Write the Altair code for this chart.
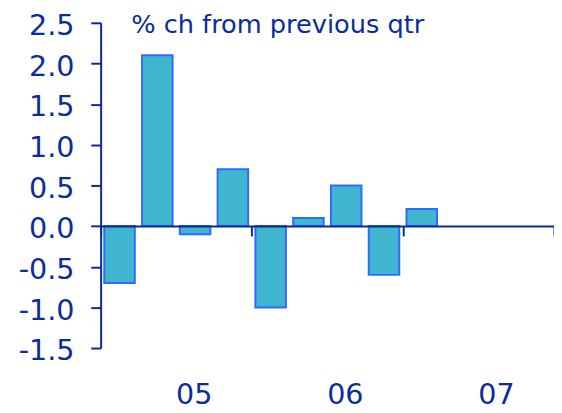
import altair as alt
import pandas as pd

# Data
quarters = ["2005Q1", "2005Q2", "2005Q3", "2005Q4",
            "2006Q1", "2006Q2", "2006Q3", "2006Q4", "2007Q1"]
values = [-0.7, 2.1, -0.1, 0.7, -1.0, 0.1, 0.5, -0.6, 0.21]
year_ticks = [2005, 2006, 2007, 2008]
y_ticks = [-1.5, -1.0, -0.5, 0.0, 0.5, 1.0, 1.5, 2.0, 2.5]
title_text = "% ch from previous qtr"

df = pd.DataFrame({"quarter": quarters, "value": values})
df["pos"] = [int(q[:4]) + (int(q[-1]) - 0.5) / 4 for q in quarters]

FONT = "DejaVu Sans"
TEXT = "#0b2c9c"
AXIS = "#0a2a98"

bars = alt.Chart(df).mark_bar(
    width=31, fill="#40b5cf", stroke="#2d6bff", strokeWidth=2,
    orient="vertical"
).encode(
    x=alt.X("pos:Q",
            scale=alt.Scale(domain=[2005, 2008], nice=False, zero=False,
                            padding=0),
            axis=alt.Axis(values=year_ticks, title=None, format="d",
                          labelExpr="datum.value < 2008 ? substring(datum.label, 2, 4) : ''",
                          offset=-123.75, tickSize=10, tickWidth=2,
                          domainWidth=2, domainColor=AXIS, tickColor=AXIS,
                          labelAlign="left", labelOffset=76, labelPadding=147,
                          labelFlush=False, labelOverlap=False, labelBound=False,
                          labelFont=FONT, labelFontSize=29, labelColor=TEXT,
                          grid=False, zindex=1)),
    y=alt.Y("value:Q", stack=None,
            scale=alt.Scale(domain=[-1.5, 2.5], nice=False),
            axis=alt.Axis(values=y_ticks, title=None,
                          labelExpr="(datum.value < 0 ? '-' : '') + format(abs(datum.value), '.1f')",
                          tickSize=10, tickWidth=2, domainWidth=2,
                          domainColor=AXIS, tickColor=AXIS,
                          labelPadding=17, labelOffset=3,
                          labelFont=FONT, labelFontSize=29,
                          labelColor=TEXT, labelOverlap=False, grid=False,
                          zindex=1)),
)

chart = bars.properties(
    width=460, height=330,
    autosize=alt.AutoSizeParams(type="none"),
    padding={"left": 94, "top": 12, "right": 0, "bottom": 72},
    title=alt.TitleParams(title_text, anchor="start", frame="group",
                          font=FONT, fontSize=26, fontWeight="normal",
                          color=TEXT, dx=31, dy=47, offset=0,
                          baseline="alphabetic"),
).configure_view(stroke=None)

chart.save("out.html", embed_options={"renderer": "svg", "actions": False})
